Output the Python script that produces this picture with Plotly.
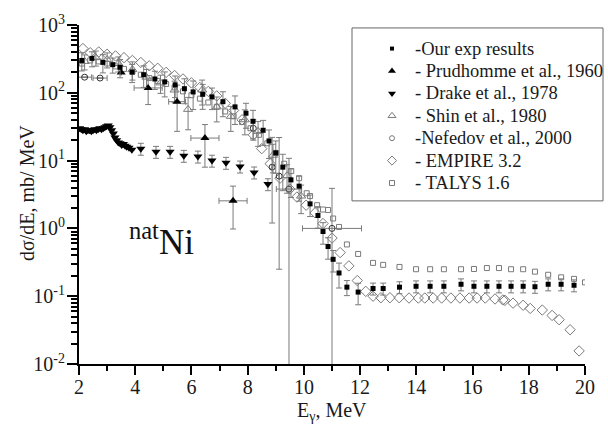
import plotly.graph_objects as go

# ---------------- data ----------------
exp_x = [2.1, 2.46, 2.85, 3.2, 3.46, 3.89, 4.3, 4.7, 5.05, 5.42, 5.75, 6.06, 6.4, 6.73,
         7.12, 7.55, 7.94, 8.19, 8.55, 8.76, 9.0, 9.25, 9.54, 9.83, 10.22, 10.5, 10.68,
         10.86, 11.04, 11.25, 11.53, 11.93, 12.46, 12.82, 13.4, 13.99, 14.49, 14.98,
         15.59, 16.05, 16.51, 16.94, 17.37, 17.8, 18.22, 18.69, 19.15, 19.61]
exp_y = [300, 322, 281, 260, 238, 202, 185, 160, 145, 131, 115, 103, 95, 87,
         74, 62, 50, 38, 28, 19.5, 13, 8, 5.2, 4.2, 2.3, 1.55, 0.9,
         0.54, 0.35, 0.22, 0.136, 0.115, 0.13, 0.13, 0.136, 0.14, 0.14, 0.14,
         0.15, 0.14, 0.14, 0.14, 0.14, 0.14, 0.138, 0.15, 0.15, 0.145]
exp_err_pct = [30, 25, 30, 25, 30, 30, 35, 30, 40, 35, 40, 45, 40, 35,
               40, 45, 40, 45, 40, 45, 50, 55, 45, 40, 35, 35, 35,
               35, 35, 40, 25, 35, 20, 20, 20, 20, 20, 20,
               20, 20, 20, 20, 20, 20, 20, 20, 20, 20]

prud_x = [3.5, 4.46, 5.49, 6.48, 7.48]
prud_y = [200, 118, 74, 21.5, 2.55]
prud_xerr = [0.0, 0.5, 0.3, 0.5, 0.5]
prud_yerr_plus = [0, 47, 56, 12.5, 1.65]
prud_yerr_minus = [0, 51, 47, 13.5, 1.57]

drake_x = [2.02, 2.08, 2.14, 2.2, 2.26, 2.32, 2.38, 2.44, 2.5, 2.56, 2.62, 2.68, 2.74,
           2.8, 2.86, 2.92, 2.98, 3.04, 3.1, 3.16, 3.22, 3.28, 3.34, 3.4, 3.46, 3.52,
           3.58, 3.64, 3.7, 3.78, 3.88, 4.2, 4.74, 5.24, 5.73, 6.23, 6.73, 7.23, 7.73,
           8.23, 8.72]
drake_y = [30, 29, 28, 29, 27, 28, 28, 27, 28, 29, 28, 29, 30,
           29, 30, 31, 32, 33, 31, 28, 25, 22, 20, 18.5, 18, 17,
           17.5, 16.5, 16, 15.5, 14.5, 15, 13.5, 13.5, 11.8, 11.5, 10.0, 9.3, 8.2,
           6.7, 4.5]
drake_err_pct = [0] * 31 + [20, 20, 20, 20, 20, 20, 20, 20, 20, 20]

shin_x = [2.2, 2.6, 3.0, 3.4, 3.9, 4.4, 4.9, 5.4, 5.88, 6.38, 6.9, 7.4, 7.9, 8.37, 8.9, 9.4, 9.9]
shin_y = [290, 330, 310, 270, 220, 170, 140, 110, 57, 110, 62, 45, 40, 27, 12, 6, 3]
shin_err_pct = [25, 25, 25, 25, 30, 30, 30, 35, 50, 40, 40, 40, 40, 40, 45, 45, 45]

nef_x = [2.2, 2.75, 8.2, 8.87, 9.12, 9.47, 11.0]
nef_y = [170, 165, 30, 8, 5.9, 3.8, 1.0]
nef_xerr = [0.25, 0.25, 0, 0, 0, 0.45, 1.05]
nef_yerr_plus = [0, 0, 10, 14, 16, 7, 2.9]
nef_yerr_minus = [0, 0, 10, 6.8, 5.65, 3.795, 0.995]

emp_x = [2.14, 2.4, 2.7, 3.0, 3.3, 3.6, 3.9, 4.2, 4.5, 4.8, 5.1, 5.4, 5.7, 6.0, 6.3,
         6.6, 6.9, 7.2, 7.5, 7.8, 8.2, 8.5, 8.8, 9.15, 9.5, 9.75, 10.08, 10.4, 10.68,
         11.0, 11.29, 11.6, 11.9, 12.2, 12.46, 12.74, 13.06, 13.39, 13.74, 14.07, 14.3,
         14.6, 14.9, 15.23, 15.55, 15.88, 16.16, 16.45, 16.8, 17.08, 17.15, 17.44, 17.8,
         18.05, 18.48, 18.83, 19.08, 19.47, 19.79]
emp_y = [450, 390, 400, 370, 350, 330, 300, 280, 250, 230, 200, 180, 160, 140, 120,
         105, 90, 70, 55, 40, 24, 15, 9, 5.5, 3.8, 2.9, 2.2, 1.7, 1.18,
         0.72, 0.44, 0.28, 0.17, 0.118, 0.10, 0.095, 0.095, 0.095, 0.094, 0.094, 0.094,
         0.094, 0.094, 0.094, 0.094, 0.094, 0.094, 0.094, 0.091, 0.088, 0.087, 0.079, 0.0735,
         0.066, 0.0625, 0.052, 0.045, 0.032, 0.0156]

tal_x = [2.1, 2.4, 2.7, 3.0, 3.3, 3.6, 3.9, 4.2, 4.5, 4.8, 5.1, 5.4, 5.7, 6.0, 6.3,
         6.6, 6.9, 7.2, 7.5, 7.8, 8.1, 8.4, 8.7, 9.0, 9.3, 9.55, 9.83, 10.1, 10.22,
         10.47, 10.68, 10.86, 11.04, 11.25, 11.53, 11.93, 12.46, 12.82, 13.4, 13.99,
         14.49, 14.98, 15.59, 16.05, 16.51, 16.94, 17.37, 17.8, 18.22, 18.69, 19.15,
         19.61, 20.0]
tal_y = [270, 300, 290, 270, 245, 225, 205, 185, 165, 150, 135, 120, 105, 92, 82,
         72, 62, 53, 45, 37, 30, 24, 18, 13, 9, 7, 5.5, 3.3, 3.0,
         2.2, 1.9, 1.87, 1.4, 1.05, 0.58, 0.42, 0.31, 0.29, 0.27, 0.25,
         0.25, 0.25, 0.25, 0.252, 0.26, 0.26, 0.25, 0.25, 0.23, 0.207, 0.19,
         0.18, 0.16]

names = ["-Our exp results", "- Prudhomme et al., 1960", "- Drake et al., 1978",
         "- Shin et al., 1980", "-Nefedov et al., 2000", "- EMPIRE 3.2", "- TALYS 1.6"]

x_tickvals = [2, 4, 6, 8, 10, 12, 14, 16, 18, 20]
y_tickvals = [0.01, 0.1, 1, 10, 100, 1000]
y_ticktext = ["10<sup>-2</sup>", "10<sup>-1</sup>", "10<sup>0</sup>",
              "10<sup>1</sup>", "10<sup>2</sup>", "10<sup>3</sup>"]

# ---------------- styling ----------------
FONT = "Liberation Serif"
GRAY = "#7a7a7a"
TXT = "#1a1a1a"

# plot area in pixels (left, right, top, bottom)
PL, PR, PT, PB = 79, 585, 19, 364
W, H = 608, 430

styles = [
    dict(symbol="square", size=5, color="black"),
    dict(symbol="triangle-up", size=8, color="black"),
    dict(symbol="triangle-down", size=8, color="black"),
    dict(symbol="triangle-up-open", size=8, color=GRAY, line=dict(width=1, color=GRAY)),
    dict(symbol="circle-open", size=6, color="#333", line=dict(width=1, color="#333")),
    dict(symbol="diamond-open", size=8, color=GRAY, line=dict(width=1, color=GRAY)),
    dict(symbol="square-open", size=5, color=GRAY, line=dict(width=1, color=GRAY)),
]
legend_styles = [
    dict(symbol="square", size=4, color="black"),
    dict(symbol="triangle-up", size=7, color="black"),
    dict(symbol="triangle-down", size=7, color="black"),
    dict(symbol="triangle-up-open", size=7, color=GRAY, line=dict(width=1, color=GRAY)),
    dict(symbol="circle-open", size=5, color=GRAY, line=dict(width=1, color=GRAY)),
    dict(symbol="diamond-open", size=7, color=GRAY, line=dict(width=1, color=GRAY)),
    dict(symbol="square-open", size=5, color=GRAY, line=dict(width=1, color=GRAY)),
]


def pct_err(vals, pct):
    return [v * p / 100.0 for v, p in zip(vals, pct)]


def ebar(arr, minus=None, color=GRAY, width=3):
    d = dict(type="data", array=arr, color=color, thickness=1, width=width, visible=True)
    if minus is not None:
        d["symmetric"] = False
        d["arrayminus"] = minus
    return d


def px_x(p):
    return (p - PL) / (PR - PL)


def px_y(p):
    return (PB - p) / (PB - PT)


fig = go.Figure()

fig.add_trace(go.Scatter(x=tal_x, y=tal_y, mode="markers", name=names[6], marker=styles[6]))
fig.add_trace(go.Scatter(x=emp_x, y=emp_y, mode="markers", name=names[5], marker=styles[5]))
fig.add_trace(go.Scatter(x=nef_x, y=nef_y, mode="markers", name=names[4],
                         error_y=ebar(nef_yerr_plus, nef_yerr_minus),
                         error_x=ebar(nef_xerr), marker=styles[4]))
fig.add_trace(go.Scatter(x=shin_x, y=shin_y, mode="markers", name=names[3],
                         error_y=ebar(pct_err(shin_y, shin_err_pct)), marker=styles[3]))
fig.add_trace(go.Scatter(x=drake_x, y=drake_y, mode="markers", name=names[2],
                         error_y=ebar(pct_err(drake_y, drake_err_pct)), marker=styles[2]))
fig.add_trace(go.Scatter(x=prud_x, y=prud_y, mode="markers", name=names[1],
                         error_y=ebar(prud_yerr_plus, prud_yerr_minus),
                         error_x=ebar(prud_xerr), marker=styles[1]))
fig.add_trace(go.Scatter(x=exp_x, y=exp_y, mode="markers", name=names[0],
                         error_y=ebar(pct_err(exp_y, exp_err_pct)), marker=styles[0]))

# hand-built legend (symbols on a pixel-scaled overlay axis, labels as annotations)
LEG_SYM_X, LEG_TXT_X, LEG_Y0, LEG_DY = 392, 413, 43, 22.8
annotations = []
for i, (nm, st) in enumerate(zip(names, legend_styles)):
    yy = LEG_Y0 + i * LEG_DY
    fig.add_trace(go.Scatter(x=[LEG_SYM_X], y=[yy], mode="markers", marker=st,
                             xaxis="x2", yaxis="y2", showlegend=False, hoverinfo="skip"))
    annotations.append(dict(text=nm, xref="paper", yref="paper", x=px_x(LEG_TXT_X),
                            y=px_y(yy), xanchor="left", yanchor="middle", showarrow=False,
                            font=dict(size=18.5, family=FONT, color=TXT)))

annotations += [
    dict(text="dσ/dE, mb/ MeV", xref="paper", yref="paper", x=px_x(27), y=px_y(190),
         textangle=-90, showarrow=False, font=dict(size=20, family=FONT, color=TXT),
         xanchor="center", yanchor="middle"),
    dict(text="E<sub>γ</sub>, MeV", xref="paper", yref="paper", x=px_x(332), y=px_y(412),
         showarrow=False, font=dict(size=20, family=FONT, color=TXT),
         xanchor="center", yanchor="middle"),
    dict(text="<sup>nat</sup>Ni", xref="paper", yref="paper", x=px_x(161), y=px_y(237),
         showarrow=False, font=dict(size=35, family=FONT, color="#111"),
         xanchor="center", yanchor="middle"),
]

fig.update_layout(
    width=W, height=H,
    margin=dict(l=PL, r=W - PR, t=PT, b=H - PB),
    paper_bgcolor="white", plot_bgcolor="white",
    font=dict(family=FONT, size=18, color=TXT),
    showlegend=False,
    xaxis=dict(range=[2, 20], showgrid=False, zeroline=False,
               showline=True, linecolor="black", linewidth=2,
               ticks="outside", ticklen=9, tickwidth=2, tickcolor="black",
               tickvals=x_tickvals, tickfont=dict(size=20, family=FONT, color=TXT),
               ticklabelstandoff=-5,
               minor=dict(ticks="outside", ticklen=5, tickwidth=2, tickcolor="black",
                          dtick=1, showgrid=False)),
    yaxis=dict(type="log", range=[-2, 3], showgrid=False, zeroline=False,
               showline=True, linecolor="black", linewidth=2,
               ticks="outside", ticklen=10, tickwidth=2, tickcolor="black",
               tickvals=y_tickvals, ticktext=y_ticktext, ticklabelstandoff=-2,
               tickfont=dict(size=20, family=FONT, color=TXT),
               minor=dict(ticks="outside", ticklen=6, tickwidth=1.5, tickcolor="black",
                          dtick="D1", showgrid=False)),
    xaxis2=dict(overlaying="x", range=[PL, PR], visible=False, fixedrange=True),
    yaxis2=dict(overlaying="y", range=[PB, PT], visible=False, fixedrange=True),
    shapes=[dict(type="rect", xref="paper", yref="paper",
                 x0=px_x(352), x1=px_x(603), y0=px_y(198), y1=px_y(22),
                 line=dict(color="#666", width=1), fillcolor="rgba(0,0,0,0)")],
    annotations=annotations,
)

fig.write_html("out.html")
